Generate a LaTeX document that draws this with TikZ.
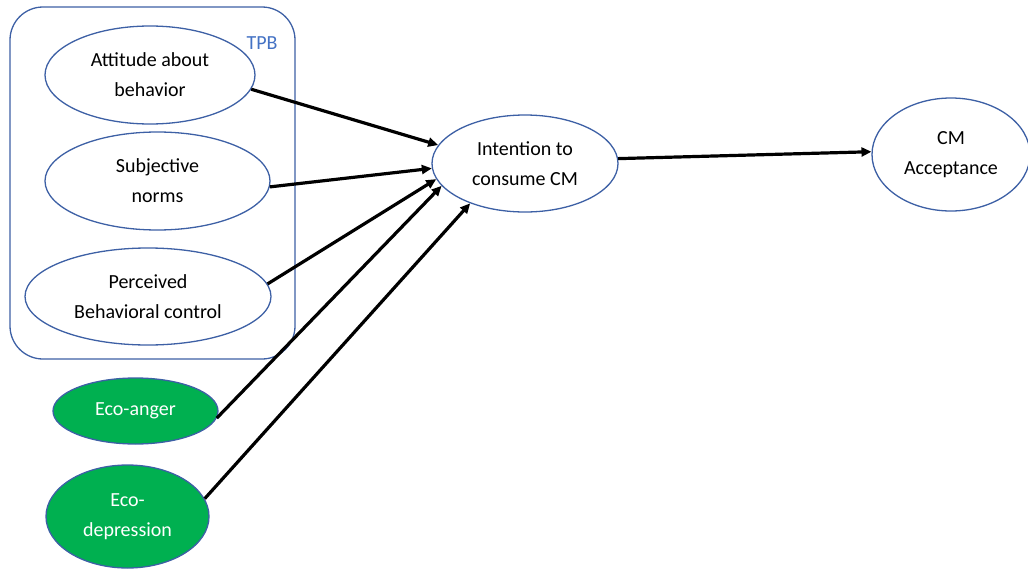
\documentclass[tikz,border=0pt]{standalone}
\usepackage{fontspec}
\setmainfont{Carlito}
\usetikzlibrary{shapes.geometric,arrows.meta}
\definecolor{tpbblue}{RGB}{61,96,165}
\definecolor{tpbtext}{RGB}{68,114,196}
\definecolor{ecogreen}{RGB}{0,176,80}

\begin{document}
\begin{tikzpicture}[x=1pt, y=-1pt, >={Triangle[length=10pt,width=9pt]}, line width=3.2pt,
    main node/.style={ellipse,draw=tpbblue,line width=1.3pt,fill=white,inner sep=0pt,align=center,font=\fontsize{20}{30}\selectfont},
    eco node/.style={main node,fill=ecogreen,text=white}]
                \useasboundingbox (0,0) rectangle (1028,570);

                % TPB group
                \node[draw=tpbblue, line width=1.3pt, rounded corners=33pt, minimum width=285pt, minimum height=352pt] at (152.5, 183) (tpb) {};
                \node[text=tpbtext, font=\fontsize{20}{24}\selectfont] at (262, 43) (tpblabel) {TPB};

                \node[main node, minimum width=210pt, minimum height=98pt] at (150, 75) (att) {Attitude about\\behavior};
                \node[main node, minimum width=225pt, minimum height=98pt] at (157.5, 181) (sub) {Subjective\\norms};
                \node[main node, minimum width=246pt, minimum height=97pt] at (148, 296.5) (per) {Perceived\\Behavioral control};
                \node[eco node, minimum width=165pt, minimum height=66pt] at (135.5, 411) (anger) {Eco-anger};
                \node[eco node, minimum width=163pt, minimum height=103pt] at (127.5, 516.5) (dep) {Eco-\\depression};
                \node[main node, minimum width=186pt, minimum height=97pt] at (525, 163.5) (int) {Intention to\\consume CM};
                \node[main node, minimum width=158pt, minimum height=113pt] at (951, 154.5) (acc) {CM\\Acceptance};

            \path[->] (att.-8) edge (int.168);
            \path[->] (sub.-3) edge (int.183);
            \path[->] (per.6) edge (int.190);
            \path[->] (anger.-5) edge (int.195);
            \path[->] (dep.13) edge (int.216);
            \path[->] (int.3) edge (acc.178.5);

            \end{tikzpicture}
\end{document}
